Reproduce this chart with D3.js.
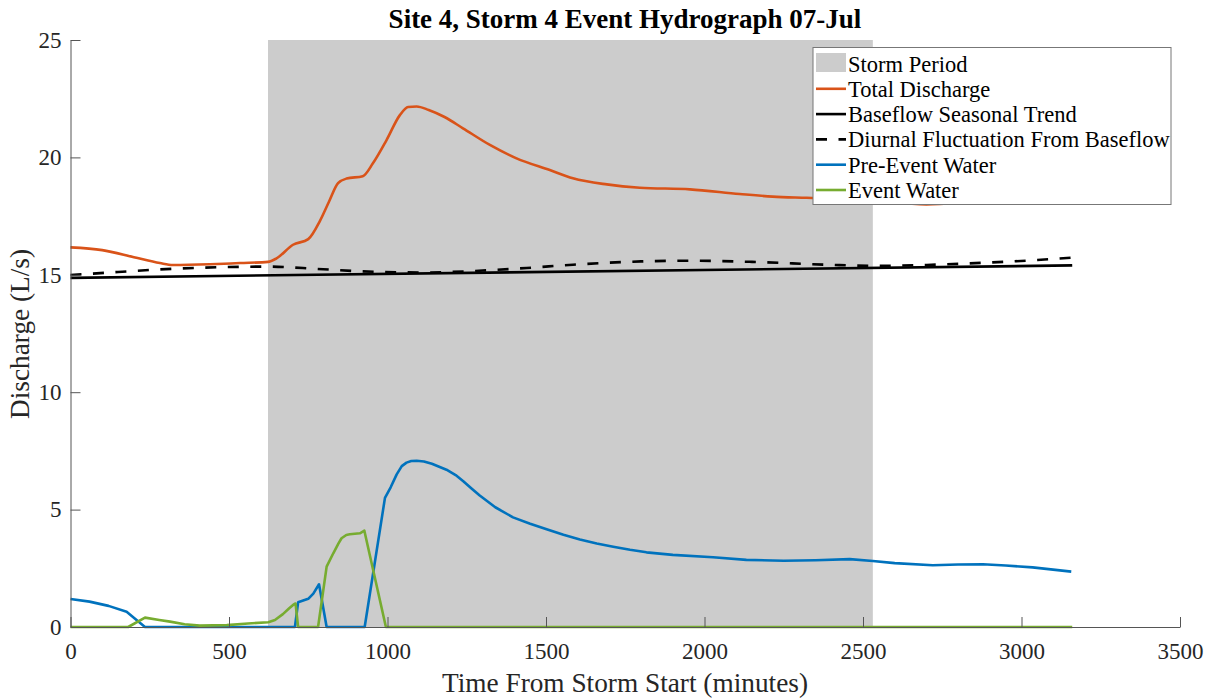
<!DOCTYPE html>
<html>
<head>
<meta charset="utf-8">
<script src="https://cdn.jsdelivr.net/npm/d3@7"></script>
<style>
  html, body { margin: 0; padding: 0; background: #fff; }
  svg { display: block; font-family: "Liberation Serif", "Times New Roman", serif; }
</style>
</head>
<body>
<svg id="chart" width="1216" height="698"></svg>
<script>
// Storm window (minutes from storm start)
const stormPeriod = [623, 2531];

// Discharge series: [minutes, L/s]
const totalDischarge = [
  [0,16.17],[100,16.05],[200,15.75],[282,15.5],[323,15.42],[440,15.45],[535,15.5],[623,15.55],
  [650,15.7],[702,16.28],[750,16.52],[787,17.3],[815,18.1],[844,18.9],[871,19.1],[922,19.2],
  [954,19.75],[997,20.74],[1039,21.8],[1065,22.15],[1092,22.17],[1130,22.02],[1180,21.72],
  [1238,21.24],[1323,20.53],[1407,19.96],[1512,19.46],[1585,19.11],[1692,18.85],[1796,18.71],
  [1954,18.64],[2111,18.44],[2215,18.33],[2322,18.28],[2450,18.22],[2550,18.12],[2700,18.0],
  [2800,18.06],[2900,18.18],[3000,18.2],[3160,18.15]
];

const baseflowTrend = [[0,14.87],[3160,15.4]];

const diurnalFluctuation = [
  [0,14.99],[150,15.12],[282,15.23],[493,15.33],[620,15.35],[780,15.25],[913,15.15],[1124,15.1],
  [1300,15.18],[1439,15.29],[1585,15.43],[1800,15.57],[1963,15.6],[2150,15.55],[2386,15.43],
  [2543,15.38],[2701,15.42],[2909,15.53],[3050,15.63],[3160,15.73]
];

const preEventWater = [
  [0,1.19],[60,1.08],[120,0.9],[177,0.65],[235,0],[708,0],[718,1.05],[750,1.2],[766,1.42],
  [784,1.82],[808,0],[928,0],[992,5.5],[1010,5.95],[1029,6.5],[1045,6.85],[1060,7.0],
  [1075,7.07],[1092,7.08],[1115,7.05],[1140,6.95],[1186,6.7],[1215,6.47],[1240,6.2],
  [1265,5.9],[1291,5.6],[1340,5.1],[1396,4.67],[1450,4.4],[1502,4.16],[1555,3.93],
  [1607,3.73],[1660,3.56],[1712,3.42],[1765,3.29],[1817,3.18],[1900,3.07],[2027,2.97],
  [2132,2.86],[2250,2.82],[2350,2.84],[2458,2.89],[2531,2.81],[2600,2.72],[2720,2.63],
  [2800,2.66],[2878,2.67],[2950,2.62],[3035,2.54],[3157,2.36]
];

const eventWater = [
  [0,0],[182,0],[235,0.4],[280,0.3],[314,0.23],[360,0.12],[408,0.06],[493,0.08],[560,0.15],
  [624,0.2],[645,0.3],[670,0.55],[690,0.8],[703,0.95],[710,1.0],[718,0],[781,0],[808,2.57],
  [829,3.14],[845,3.55],[855,3.78],[870,3.92],[881,3.95],[913,3.99],[927,4.1],[995,0],[3160,0]
];

const xTicks = [0, 500, 1000, 1500, 2000, 2500, 3000, 3500];
const yTicks = [0, 5, 10, 15, 20, 25];

const legendLabels = [
  "Storm Period", "Total Discharge", "Baseflow Seasonal Trend",
  "Diurnal Fluctuation From Baseflow", "Pre-Event Water", "Event Water"
];

const colors = {
  storm: "#cccccc",
  total: "#D95319",
  base: "#000000",
  pre: "#0072BD",
  event: "#77AC30",
  axis: "#262626"
};

const svg = d3.select("#chart");

const x = d3.scaleLinear().domain([0, 3500]).range([70.5, 1180]);
const y = d3.scaleLinear().domain([0, 25]).range([627, 40]);

// storm shading
svg.append("rect")
  .attr("x", x(stormPeriod[0]))
  .attr("y", y(25))
  .attr("width", x(stormPeriod[1]) - x(stormPeriod[0]))
  .attr("height", y(0) - y(25))
  .attr("fill", colors.storm);

const smooth = d3.line().x(d => x(d[0])).y(d => y(d[1])).curve(d3.curveMonotoneX);
const straight = d3.line().x(d => x(d[0])).y(d => y(d[1])).curve(d3.curveLinear);

const series = [
  { data: totalDischarge, color: colors.total, dash: null, gen: smooth },
  { data: baseflowTrend, color: colors.base, dash: null, gen: straight },
  { data: diurnalFluctuation, color: colors.base, dash: "11,11.5", gen: smooth },
  { data: preEventWater, color: colors.pre, dash: null, gen: straight },
  { data: eventWater, color: colors.event, dash: null, gen: straight }
];

series.forEach(s => {
  svg.append("path")
    .datum(s.data)
    .attr("d", s.gen)
    .attr("fill", "none")
    .attr("stroke", s.color)
    .attr("stroke-width", 2.6)
    .attr("stroke-linejoin", "round")
    .attr("stroke-dasharray", s.dash);
});

// axes with inward ticks
const xAxis = d3.axisBottom(x).tickValues(xTicks).tickFormat(d3.format("d"))
  .tickSizeInner(-10).tickSizeOuter(0).tickPadding(16);
const yAxis = d3.axisLeft(y).tickValues(yTicks).tickFormat(d3.format("d"))
  .tickSizeInner(-10).tickSizeOuter(0).tickPadding(9);

const gx = svg.append("g").attr("transform", `translate(0,${y(0)})`).call(xAxis);
const gy = svg.append("g").attr("transform", `translate(${x(0)},0)`).call(yAxis);

[gx, gy].forEach(g => {
  g.selectAll("path, line").attr("stroke", "#555").attr("stroke-width", 1);
  g.selectAll("text")
    .attr("fill", colors.axis)
    .style("font-family", "'Liberation Serif', serif")
    .style("font-size", "23px");
});

// title and axis labels
svg.append("text")
  .attr("x", 625).attr("y", 28)
  .attr("text-anchor", "middle")
  .attr("font-weight", "bold")
  .attr("font-size", 27)
  .attr("fill", "#000")
  .text("Site 4, Storm 4 Event Hydrograph 07-Jul");

svg.append("text")
  .attr("x", 625).attr("y", 692)
  .attr("text-anchor", "middle")
  .attr("font-size", 27.3)
  .attr("fill", colors.axis)
  .text("Time From Storm Start (minutes)");

svg.append("text")
  .attr("transform", "translate(29,334) rotate(-90)")
  .attr("text-anchor", "middle")
  .attr("font-size", 27.3)
  .attr("fill", colors.axis)
  .text("Discharge (L/s)");

// legend
const lg = svg.append("g").attr("transform", "translate(813,47.5)");
lg.append("rect")
  .attr("width", 358).attr("height", 157)
  .attr("fill", "#fff")
  .attr("stroke", "#777").attr("stroke-width", 1);

const rowH = 25.3;
legendLabels.forEach((label, i) => {
  const cy = 16 + i * rowH;
  if (i === 0) {
    lg.append("rect")
      .attr("x", 3).attr("y", cy - 10.5)
      .attr("width", 30).attr("height", 19)
      .attr("fill", colors.storm);
  } else {
    const s = series[i - 1];
    lg.append("line")
      .attr("x1", 3).attr("x2", 33)
      .attr("y1", cy).attr("y2", cy)
      .attr("stroke", s.color)
      .attr("stroke-width", 2.6)
      .attr("stroke-dasharray", s.dash);
  }
  lg.append("text")
    .attr("x", 35).attr("y", cy + 8)
    .attr("font-size", 22.5)
    .attr("fill", "#000")
    .text(label);
});
</script>
</body>
</html>
